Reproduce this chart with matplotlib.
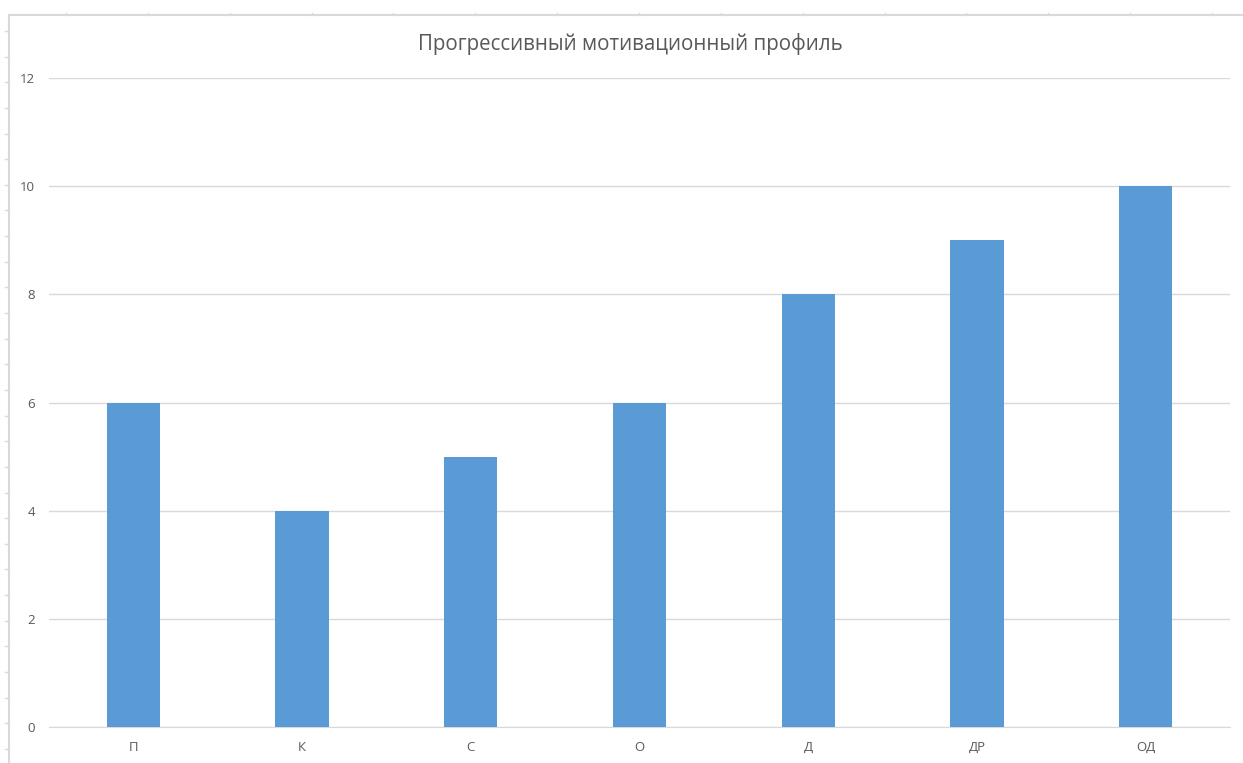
import matplotlib
matplotlib.use("Agg")
import matplotlib.pyplot as plt
from matplotlib.lines import Line2D

plt.rcParams['font.family'] = ['Open Sans', 'DejaVu Sans']

categories = ['П', 'К', 'С', 'О', 'Д', 'ДР', 'ОД']
values = [6, 4, 5, 6, 8, 9, 10]
y_ticks = [0, 2, 4, 6, 8, 10, 12]
title = 'Прогрессивный мотивационный профиль'

W, H = 1243, 763
fig = plt.figure(figsize=(W / 100, H / 100), dpi=100)
ax = fig.add_axes([49 / W, 1 - 727 / H, (1230 - 49) / W, (727 - 78) / H])

grey = '#d9d9d9'
text_grey = '#595959'

x = range(len(categories))
ax.bar(x, values, width=0.315, color='#5b9bd5', zorder=3)

ax.set_xlim(-0.5, len(categories) - 0.5)
ax.set_ylim(0, 12)
ax.set_yticks(y_ticks)
ax.set_xticks(list(x))
ax.set_xticklabels(categories)
ax.grid(axis='y', color=grey, linewidth=1, zorder=0)
for s in ['left', 'right', 'top']:
    ax.spines[s].set_visible(False)
ax.spines['bottom'].set_color(grey)
ax.tick_params(axis='both', length=0, colors=text_grey, labelsize=9.5)
ax.tick_params(axis='y', pad=10)
ax.tick_params(axis='x', pad=10)

fig.text(630 / W, 1 - 44 / H, title, ha='center', va='center',
         fontsize=14.8, color=text_grey)

# sheet frame with row/column ticks around the chart
fx = lambda px: px / W
fy = lambda py: 1 - py / H
fig.add_artist(Line2D([fx(9), fx(9)], [fy(15), 0], color=grey, lw=1.5))
fig.add_artist(Line2D([fx(9), 1], [fy(15), fy(15)], color=grey, lw=1.5))
for i in range(29):
    py = 31 + i * 25.64
    fig.add_artist(Line2D([fx(5), fx(9)], [fy(py), fy(py)], color=grey, lw=1))
for i in range(15):
    px = 66 + i * 81.86
    fig.add_artist(Line2D([fx(px), fx(px)], [fy(13), fy(15)], color=grey, lw=1))

fig.savefig('out.png', dpi=100)
